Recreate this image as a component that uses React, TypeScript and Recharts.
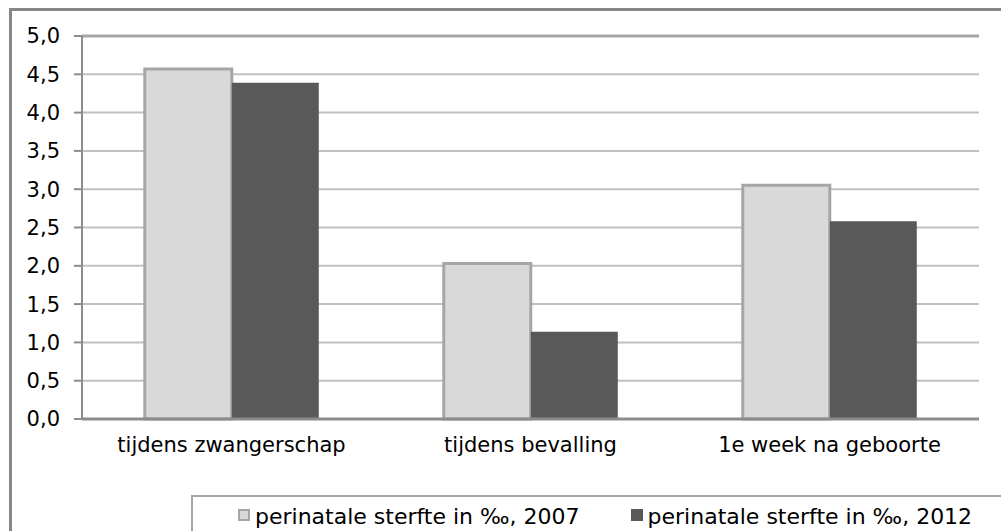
import React from 'react';
import { BarChart, Bar, XAxis, YAxis, CartesianGrid, Legend, ReferenceLine } from 'recharts';

const categories = ['tijdens zwangerschap', 'tijdens bevalling', '1e week na geboorte'];
const series2007 = [4.57, 2.03, 3.05];
const series2012 = [4.39, 1.14, 2.58];
const seriesNames = ['perinatale sterfte in ‰, 2007', 'perinatale sterfte in ‰, 2012'];
const yTicks = [0, 0.5, 1, 1.5, 2, 2.5, 3, 3.5, 4, 4.5, 5];

const data = categories.map((c, i) => ({ name: c, y2007: series2007[i], y2012: series2012[i] }));
const boundaryTicks = categories.map((_, i) => i).concat([categories.length]);

const FONT = '"DejaVu Sans", Verdana, sans-serif';
const LIGHT = '#D9D9D9';
const LIGHT_STROKE = '#A6A6A6';
const DARK = '#595959';

const legendItems = [
  { name: seriesNames[0], fill: LIGHT, border: LIGHT_STROKE },
  { name: seriesNames[1], fill: DARK, border: DARK },
];

const renderLegend = () => (
  <div
    style={{
      boxSizing: 'border-box',
      width: 830,
      height: 60,
      border: '2px solid #A6A6A6',
      background: '#fff',
      display: 'flex',
      alignItems: 'flex-start',
      paddingLeft: 45,
      paddingTop: 7,
      fontFamily: FONT,
      fontSize: 22,
      lineHeight: '25px',
      color: '#000',
      whiteSpace: 'nowrap',
    }}
  >
    {legendItems.map((it, i) => (
      <div key={i} style={{ display: 'flex', alignItems: 'flex-start', marginRight: 51 }}>
        <span
          style={{
            display: 'inline-block',
            boxSizing: 'border-box',
            width: 12,
            height: 12,
            marginTop: 5,
            marginRight: 5,
            background: it.fill,
            border: `2px solid ${it.border}`,
          }}
        />
        <span>{it.name}</span>
      </div>
    ))}
  </div>
);

const fmt = (v: number) => v.toFixed(1).replace('.', ',');

export default function App() {
  return (
    <div
      style={{
        position: 'absolute',
        left: 0,
        top: 0,
        width: 1001,
        height: 531,
        overflow: 'hidden',
        background: '#fff',
        fontFamily: FONT,
      }}
    >
      <div
        style={{
          position: 'absolute',
          left: 9,
          top: 8,
          width: 1100,
          height: 700,
          border: '3px solid #878787',
          boxSizing: 'border-box',
        }}
      />
      <div style={{ position: 'absolute', left: 0, top: 0 }}>
        <BarChart
          width={1001}
          height={531}
          data={data}
          margin={{ top: 36, right: 22, left: 0, bottom: 82 }}
          barCategoryGap="21%"
          barGap={0}
          style={{ fontFamily: FONT }}
        >
          <CartesianGrid vertical={false} stroke="#C0C0C0" strokeWidth={2} />
          <XAxis
            xAxisId="bounds"
            type="number"
            domain={[0, categories.length]}
            ticks={boundaryTicks}
            allowDataOverflow
            height={0}
            axisLine={false}
            tick={false}
            tickSize={6}
            tickLine={{ stroke: '#8C8C8C', strokeWidth: 2 }}
          />
          <XAxis
            xAxisId="cat"
            dataKey="name"
            height={30}
            axisLine={{ stroke: '#8C8C8C', strokeWidth: 3 }}
            tickLine={false}
            tickSize={6}
            tickMargin={12}
            tick={{ fill: '#000', fontSize: 21, fontFamily: FONT }}
            interval={0}
          />
          <YAxis
            width={82}
            domain={[0, 5]}
            ticks={yTicks}
            interval={0}
            tickFormatter={fmt}
            axisLine={{ stroke: '#8C8C8C', strokeWidth: 2 }}
            tickLine={{ stroke: '#8C8C8C', strokeWidth: 2 }}
            tickSize={8}
            tickMargin={14}
            tick={{ fill: '#000', fontSize: 21, fontFamily: FONT }}
          />
          <ReferenceLine y={5} xAxisId="cat" stroke="#A6A6A6" strokeWidth={3} />
          <ReferenceLine x={categories.length} xAxisId="bounds" stroke="#C0C0C0" strokeWidth={2} />
          <Legend
            content={renderLegend}
            layout="horizontal"
            verticalAlign="middle"
            align="center"
            wrapperStyle={{ position: 'absolute', left: 191, top: 495, width: 830, height: 60 }}
          />
          <Bar
            xAxisId="cat"
            dataKey="y2007"
            name={seriesNames[0]}
            fill={LIGHT}
            stroke={LIGHT_STROKE}
            strokeWidth={3}
            isAnimationActive={false}
          />
          <Bar
            xAxisId="cat"
            dataKey="y2012"
            name={seriesNames[1]}
            fill={DARK}
            isAnimationActive={false}
          />
        </BarChart>
      </div>
    </div>
  );
}
